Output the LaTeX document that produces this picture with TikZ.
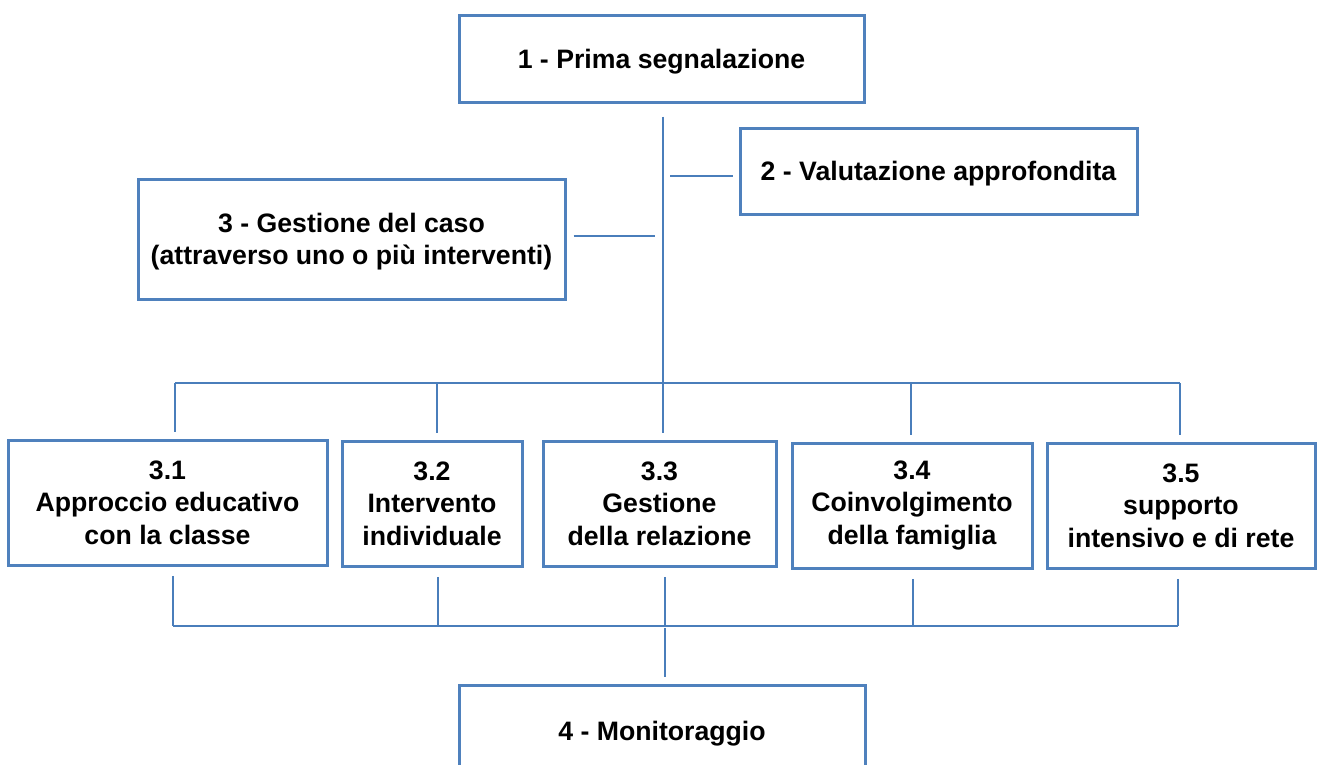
\documentclass[tikz,border=0pt]{standalone}
\usepackage{fontspec}
\setmainfont{Liberation Sans}
\definecolor{boxblue}{RGB}{79,129,189}
\definecolor{lineblue}{RGB}{74,126,187}
\tikzset{every picture/.style={line width=1pt}}
\tikzset{
  box/.style={draw=boxblue, line width=2.25pt, align=center, inner sep=0pt,
    font=\bfseries\fontsize{20}{24.5}\selectfont},
  stepbox/.style={box, text depth=0pt},
  link/.style={draw=lineblue, line width=1.4pt}
}

\begin{document}
\begin{tikzpicture}[x=0.75pt,y=0.75pt,yscale=-1,xscale=1]
\useasboundingbox (0,0) rectangle (1317,764);

%Shape: Rectangle -- main steps
\node (p1) at (661.5,58.5) [stepbox, minimum width=303.75pt, minimum height=65.25pt] {1 - Prima segnalazione};
\node (p2) at (938.5,171) [stepbox, minimum width=297.75pt, minimum height=64.5pt] {2 - Valutazione approfondita};
\node (p3) at (351.5,239) [stepbox, minimum width=320.25pt, minimum height=90pt] {3 - Gestione del caso\\(attraverso uno o più interventi)};
\node (p4) at (662,731) [stepbox, minimum width=304.5pt, minimum height=69pt] {4 - Monitoraggio};

%Shape: Rectangle -- interventions
\node (s31) at (167.5,502.5) [box, minimum width=239.25pt, minimum height=93.75pt] {3.1\\Approccio educativo\\con la classe};
\node (s32) at (432,503.5) [box, minimum width=135pt, minimum height=93.75pt] {3.2\\Intervento\\individuale};
\node (s33) at (659.5,503.5) [box, minimum width=174.75pt, minimum height=93.75pt] {3.3\\Gestione\\della relazione};
\node (s34) at (912,505.5) [box, minimum width=180pt, minimum height=93.75pt] {3.4\\Coinvolgimento\\della famiglia};
\node (s35) at (1181,505.5) [box, minimum width=201pt, minimum height=93.75pt] {3.5\\supporto\\intensivo e di rete};

% junctions
\coordinate (j1) at (663,383);
\coordinate (j2) at (670,176);
\coordinate (j3) at (655,236);
\coordinate (t1) at (175,383);
\coordinate (t2) at (437,383);
\coordinate (t3) at (663,383);
\coordinate (t4) at (911,383);
\coordinate (t5) at (1180,383);
\coordinate (b1) at (173,626);
\coordinate (b2) at (438,626);
\coordinate (b3) at (665,626);
\coordinate (b4) at (913,626);
\coordinate (b5) at (1178,626);

%Straight Lines -- trunk and side branches
\draw [link, shorten <=9.75pt] (p1.south -| j1) -- (j1);
\draw [link, shorten >=4.5pt] (j2) -- (j2 -| p2.west);
\draw [link, shorten <=5.25pt] (p3.east |- j3) -- (j3);

%Straight Lines -- upper bus
\draw [link] (t1) -- (t5);
\foreach \t/\s in {t1/s31,t2/s32,t3/s33,t4/s34,t5/s35}
  \draw [link, shorten >=5.25pt] (\t) -- (\t |- \s.north);

%Straight Lines -- lower bus
\foreach \b/\s in {b1/s31,b2/s32,b3/s33,b4/s34,b5/s35}
  \draw [link, shorten <=7pt] (\b |- \s.south) -- (\b);
\draw [link] (b1) -- (b5);
\draw [link, shorten <=1.5pt, shorten >=5pt] (b3) -- (b3 |- p4.north);

\end{tikzpicture}
\end{document}
